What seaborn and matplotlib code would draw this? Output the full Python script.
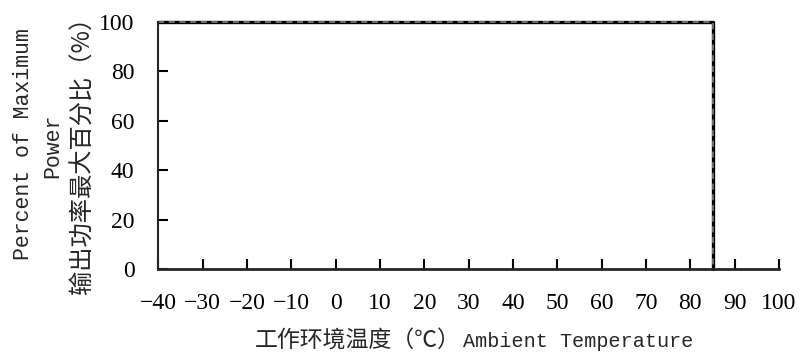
import pandas as pd
import matplotlib
matplotlib.use('Agg')
import matplotlib.pyplot as plt
import seaborn as sns

# derating curve: full power up to 85 C, then cut off
temp = [-40, 85, 85]
power = [100, 100, 0]
x_ticks = list(range(-40, 101, 10))
y_ticks = [0, 20, 40, 60, 80, 100]

df = pd.DataFrame({'temp': temp, 'power': power})

sns.set_style('ticks')
plt.rcParams['font.family'] = ['Liberation Serif', 'Noto Sans CJK SC']

fig = plt.figure(figsize=(7.99, 3.56), dpi=100)
ax = fig.add_axes([0.198, 0.244, 0.777, 0.694])

sns.lineplot(data=df, x='temp', y='power', sort=False, estimator=None,
             color='black', linewidth=2.4, ax=ax, clip_on=False)
sns.lineplot(data=df, x='temp', y='power', sort=False, estimator=None,
             color='#8a8a8a', linewidth=1.1, linestyle=(0, (4, 3)), ax=ax,
             clip_on=False)

ax.set_xlim(-40, 100)
ax.set_ylim(0, 100)
ax.set_xticks(x_ticks)
ax.set_yticks(y_ticks)
ax.set_xticklabels([str(t).replace('-', '\u2212') for t in x_ticks])
ax.tick_params(direction='in', length=7, width=1.5, labelsize=17,
               colors='black')
ax.tick_params(axis='y', pad=17)
ax.tick_params(axis='x', pad=17)
for side in ['top', 'right']:
    ax.spines[side].set_visible(False)
ax.spines['left'].set_linewidth(1.5)
ax.spines['bottom'].set_linewidth(2)
ax.set_xlabel('')
ax.set_ylabel('')

mono_cjk = ['Liberation Mono', 'Noto Sans CJK SC']
cjk = ['Noto Sans CJK SC', 'DejaVu Sans']
fig.text(0.577, 0.042, '工作环境温度（℃）', ha='right',
         va='center', fontsize=16.5, family=cjk)
fig.text(0.579, 0.042, 'Ambient Temperature', ha='left',
         va='center', fontsize=14.5, family=mono_cjk)
fig.text(0.029, 0.595, 'Percent of Maximum', rotation=90, ha='center',
         va='center', fontsize=15.5, family=mono_cjk)
fig.text(0.066, 0.59, 'Power', rotation=90, ha='center',
         va='center', fontsize=15.5, family=mono_cjk)
fig.text(0.103, 0.58, '输出功率最大百分比（%）', rotation=90, ha='center',
         va='center', fontsize=17.5, family=cjk)

fig.savefig('out.png', dpi=100)
